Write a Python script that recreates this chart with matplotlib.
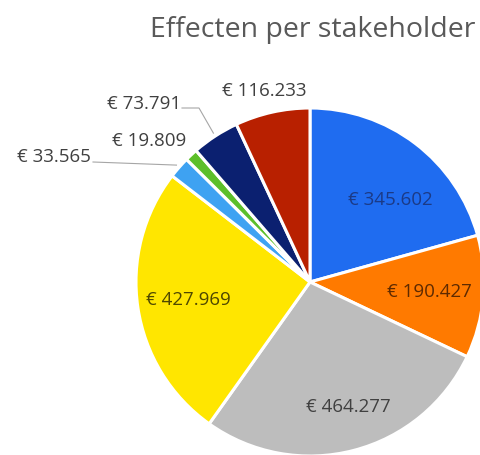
import numpy as np
import matplotlib
matplotlib.use("Agg")
import matplotlib.pyplot as plt

title = "Effecten per stakeholder"
values = [345602, 190427, 464277, 427969, 33565, 19809, 73791, 116233]
labels = ["€ 345.602", "€ 190.427", "€ 464.277", "€ 427.969",
          "€ 33.565", "€ 19.809", "€ 73.791", "€ 116.233"]
colors = ["#1f6cf0", "#ff7a00", "#bdbdbd", "#ffe600",
          "#3ea2f2", "#5cbf2a", "#0b2070", "#b82000"]
label_colors = ["#1b3a86", "#5e2a00", "#404040", "#4f4800",
                "#404040", "#404040", "#404040", "#404040"]

W, H = 480, 455
fig = plt.figure(figsize=(W / 100, H / 100), dpi=100)
ax = fig.add_axes([0, 0, 1, 1])
ax.set_xlim(0, W)
ax.set_ylim(0, H)
ax.set_aspect("equal")
ax.axis("off")

cx, cy, R = 310, H - 282, 174
wedges, _ = ax.pie(values, colors=colors, startangle=90, counterclock=False,
                   center=(cx, cy), radius=R,
                   wedgeprops=dict(edgecolor="white", linewidth=2.2))
ax.set_xlim(0, W)
ax.set_ylim(0, H)

fs = 13.5
family = ["Open Sans", "DejaVu Sans"]

# label anchor positions in pixel coordinates (x, y from top), with alignment
label_layout = [
    (390, 200, "center"),
    (429, 292, "center"),
    (348, 407, "center"),
    (188, 300, "center"),
    (91, 157, "right"),
    (186, 141, "right"),
    (181, 104, "right"),
    (306, 91, "right"),
]
for lab, lc, (tx, ty, ha) in zip(labels, label_colors, label_layout):
    ax.text(tx, H - ty, lab, ha=ha, va="center", fontsize=fs,
            color=lc, family=family)

def edge_pt(w, frac=1.0):
    mid = np.deg2rad((w.theta1 + w.theta2) / 2)
    return cx + frac * R * np.cos(mid), cy + frac * R * np.sin(mid)

# light blue leader
ex, ey = edge_pt(wedges[4], 1.02)
ax.plot([93, ex], [H - 162, ey], color="#a6a6a6", lw=0.8)
# navy leader
ex, ey = edge_pt(wedges[6], 1.02)
ax.plot([182, 199, ex], [H - 108, H - 108, ey], color="#a6a6a6", lw=0.8)

fig.text(475 / W, 1 - 37 / H, title, ha="right", va="baseline",
         fontsize=20.5, color="#595959", family=family)

fig.savefig("out.png", dpi=100)
